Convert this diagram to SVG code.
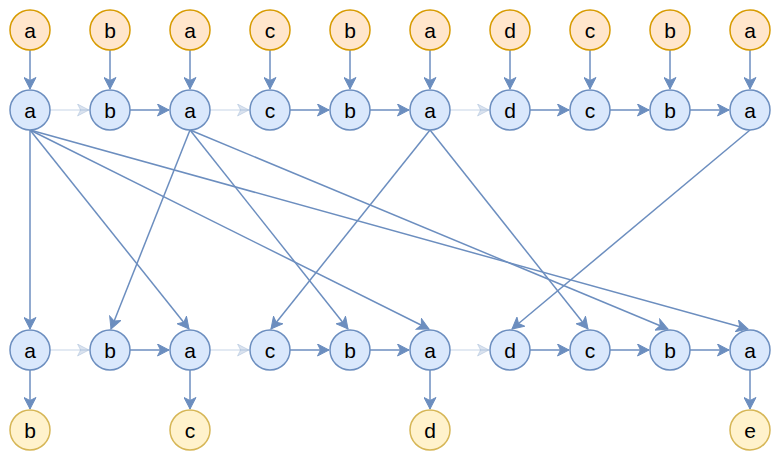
<svg xmlns="http://www.w3.org/2000/svg" width="782" height="468" viewBox="0 0 782 468">
<style>
circle{stroke-width:1.5}
.o{fill:#ffe6cc;stroke:#d79b00}
.bl{fill:#dae8fc;stroke:#6c8ebf}
.y{fill:#fff2cc;stroke:#d6b656}
text{font-family:"Liberation Sans",Arial,sans-serif;font-size:21px;text-anchor:middle;dominant-baseline:central;fill:#000}
.e{stroke:#6c8ebf;stroke-width:1.5;fill:none;marker-end:url(#ar)}
.f{stroke:#6c8ebf;stroke-opacity:0.25;stroke-width:1.5;fill:none;marker-end:url(#arf)}
</style>
<defs>
<marker id="ar" markerUnits="userSpaceOnUse" viewBox="0 0 13 13" markerWidth="13" markerHeight="13" refX="12" refY="6.5" orient="auto">
<path d="M0.5,0.5 L12,6.5 L0.5,12.5 L3.5,6.5 Z" fill="#6c8ebf" stroke="#6c8ebf" stroke-width="1"/>
</marker>
<marker id="arf" markerUnits="userSpaceOnUse" viewBox="0 0 13 13" markerWidth="13" markerHeight="13" refX="12" refY="6.5" orient="auto">
<path d="M0.5,0.5 L12,6.5 L0.5,12.5 L3.5,6.5 Z" fill="#6c8ebf" fill-opacity="0.25" stroke="#6c8ebf" stroke-opacity="0.25" stroke-width="1"/>
</marker>
</defs>
<g id="connectors">
<path class="e" d="M30,50V89"/><path class="e" d="M110,50V89"/><path class="e" d="M190,50V89"/><path class="e" d="M270,50V89"/><path class="e" d="M350,50V89"/>
<path class="e" d="M430,50V89"/><path class="e" d="M510,50V89"/><path class="e" d="M590,50V89"/><path class="e" d="M670,50V89"/><path class="e" d="M750,50V89"/>
<path class="f" d="M50,110H89"/><path class="e" d="M130,110H169"/><path class="f" d="M210,110H249"/><path class="e" d="M290,110H329"/><path class="e" d="M370,110H409"/>
<path class="f" d="M450,110H489"/><path class="e" d="M530,110H569"/><path class="e" d="M610,110H649"/><path class="e" d="M690,110H729"/>
<path class="f" d="M50,350H89"/><path class="e" d="M130,350H169"/><path class="f" d="M210,350H249"/><path class="e" d="M290,350H329"/><path class="e" d="M370,350H409"/>
<path class="f" d="M450,350H489"/><path class="e" d="M530,350H569"/><path class="e" d="M610,350H649"/><path class="e" d="M690,350H729"/>
<path class="e" d="M30,370V409"/><path class="e" d="M190,370V409"/><path class="e" d="M430,370V409"/><path class="e" d="M750,370V409"/>
<path class="e" d="M30,130V329"/>
<path class="e" d="M30,130L189,329"/>
<path class="e" d="M30,130L429,329"/>
<path class="e" d="M30,130L748,329"/>
<path class="e" d="M190,130L111,329"/>
<path class="e" d="M190,130L348,329"/>
<path class="e" d="M190,130L668,329"/>
<path class="e" d="M430,130L271,329"/>
<path class="e" d="M430,130L588,329"/>
<path class="e" d="M750,130L512,329"/>
</g>
<g id="t0"><circle class="o" cx="30" cy="30" r="20"/><text x="30" y="30">a</text></g>
<g id="t1"><circle class="o" cx="110" cy="30" r="20"/><text x="110" y="30">b</text></g>
<g id="t2"><circle class="o" cx="190" cy="30" r="20"/><text x="190" y="30">a</text></g>
<g id="t3"><circle class="o" cx="270" cy="30" r="20"/><text x="270" y="30">c</text></g>
<g id="t4"><circle class="o" cx="350" cy="30" r="20"/><text x="350" y="30">b</text></g>
<g id="t5"><circle class="o" cx="430" cy="30" r="20"/><text x="430" y="30">a</text></g>
<g id="t6"><circle class="o" cx="510" cy="30" r="20"/><text x="510" y="30">d</text></g>
<g id="t7"><circle class="o" cx="590" cy="30" r="20"/><text x="590" y="30">c</text></g>
<g id="t8"><circle class="o" cx="670" cy="30" r="20"/><text x="670" y="30">b</text></g>
<g id="t9"><circle class="o" cx="750" cy="30" r="20"/><text x="750" y="30">a</text></g>
<g id="u0"><circle class="bl" cx="30" cy="110" r="20"/><text x="30" y="110">a</text></g>
<g id="u1"><circle class="bl" cx="110" cy="110" r="20"/><text x="110" y="110">b</text></g>
<g id="u2"><circle class="bl" cx="190" cy="110" r="20"/><text x="190" y="110">a</text></g>
<g id="u3"><circle class="bl" cx="270" cy="110" r="20"/><text x="270" y="110">c</text></g>
<g id="u4"><circle class="bl" cx="350" cy="110" r="20"/><text x="350" y="110">b</text></g>
<g id="u5"><circle class="bl" cx="430" cy="110" r="20"/><text x="430" y="110">a</text></g>
<g id="u6"><circle class="bl" cx="510" cy="110" r="20"/><text x="510" y="110">d</text></g>
<g id="u7"><circle class="bl" cx="590" cy="110" r="20"/><text x="590" y="110">c</text></g>
<g id="u8"><circle class="bl" cx="670" cy="110" r="20"/><text x="670" y="110">b</text></g>
<g id="u9"><circle class="bl" cx="750" cy="110" r="20"/><text x="750" y="110">a</text></g>
<g id="v0"><circle class="bl" cx="30" cy="350" r="20"/><text x="30" y="350">a</text></g>
<g id="v1"><circle class="bl" cx="110" cy="350" r="20"/><text x="110" y="350">b</text></g>
<g id="v2"><circle class="bl" cx="190" cy="350" r="20"/><text x="190" y="350">a</text></g>
<g id="v3"><circle class="bl" cx="270" cy="350" r="20"/><text x="270" y="350">c</text></g>
<g id="v4"><circle class="bl" cx="350" cy="350" r="20"/><text x="350" y="350">b</text></g>
<g id="v5"><circle class="bl" cx="430" cy="350" r="20"/><text x="430" y="350">a</text></g>
<g id="v6"><circle class="bl" cx="510" cy="350" r="20"/><text x="510" y="350">d</text></g>
<g id="v7"><circle class="bl" cx="590" cy="350" r="20"/><text x="590" y="350">c</text></g>
<g id="v8"><circle class="bl" cx="670" cy="350" r="20"/><text x="670" y="350">b</text></g>
<g id="v9"><circle class="bl" cx="750" cy="350" r="20"/><text x="750" y="350">a</text></g>
<g id="w0"><circle class="y" cx="30" cy="430" r="20"/><text x="30" y="430">b</text></g>
<g id="w2"><circle class="y" cx="190" cy="430" r="20"/><text x="190" y="430">c</text></g>
<g id="w5"><circle class="y" cx="430" cy="430" r="20"/><text x="430" y="430">d</text></g>
<g id="w9"><circle class="y" cx="750" cy="430" r="20"/><text x="750" y="430">e</text></g>
</svg>
